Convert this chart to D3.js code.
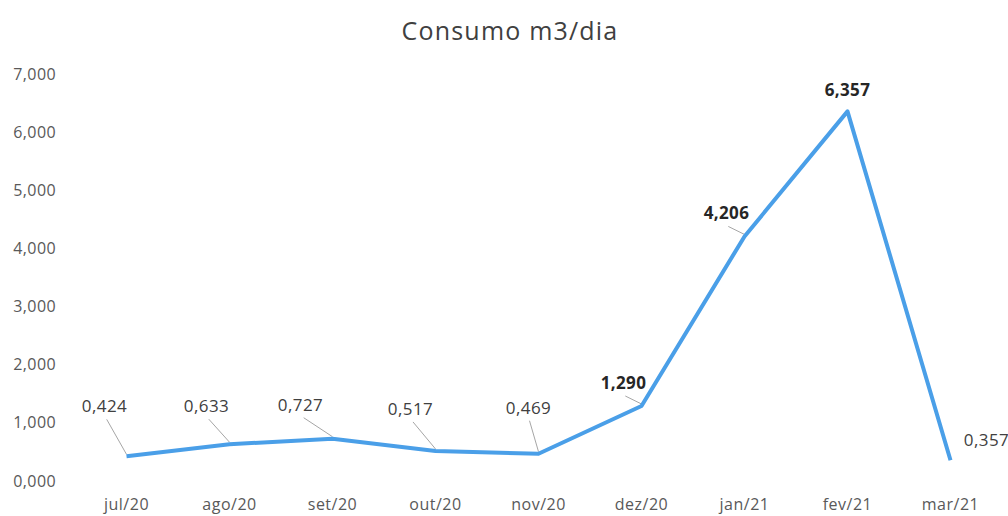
<!DOCTYPE html>
<html lang="pt">
<head>
<meta charset="UTF-8">
<title>Consumo m3/dia</title>
<script src="https://d3js.org/d3.v7.min.js"></script>
<style>
  body { margin: 0; background: #fff; }
  text { font-family: "Open Sans", sans-serif; }
</style>
</head>
<body>
<div id="chart"></div>
<script>
// data
var months = ["jul/20", "ago/20", "set/20", "out/20", "nov/20", "dez/20", "jan/21", "fev/21", "mar/21"];
var consumo = [0.424, 0.633, 0.727, 0.517, 0.469, 1.290, 4.206, 6.357, 0.357];
var yTicks = [0, 1, 2, 3, 4, 5, 6, 7];
var boldLabel = [false, false, false, false, false, true, true, true, false];

// label offsets from the point (dx, dy) and whether a leader line is drawn
var labelOffsets = [[-22, -50], [-23, -38], [-32, -34], [-25, -42], [-10, -46], [-18, -23], [-18, -23], [0, -21], [36, -20]];
var leader = [true, true, true, true, true, true, true, false, false];

var W = 1008, H = 516;
var margin = {top: 74, bottom: 35, left: 75, right: 6};

var svg = d3.select("#chart").append("svg")
  .attr("width", W)
  .attr("height", H);

var x = d3.scalePoint()
  .domain(months)
  .range([margin.left, W - margin.right])
  .padding(0.5);

var y = d3.scaleLinear()
  .domain([0, 7])
  .range([H - margin.bottom, margin.top]);

var pt = d3.formatLocale({decimal: ",", thousands: ".", grouping: [3], currency: ["", ""]});
var fmt = pt.format(".3f");

// title
svg.append("text")
  .attr("x", 510)
  .attr("y", 40)
  .attr("text-anchor", "middle")
  .style("font-size", "25px")
  .style("letter-spacing", "1.2px")
  .style("fill", "#404040")
  .text("Consumo m3/dia");

// y axis labels
svg.append("g").selectAll("text")
  .data(yTicks)
  .enter().append("text")
    .attr("x", 56)
    .attr("y", function(d) { return y(d); })
    .attr("dy", "0.35em")
    .attr("text-anchor", "end")
    .style("font-size", "16px")
    .style("letter-spacing", "0.4px")
    .style("fill", "#595959")
    .text(function(d) { return fmt(d); });

// x axis labels
svg.append("g").selectAll("text")
  .data(months)
  .enter().append("text")
    .attr("x", function(d) { return x(d); })
    .attr("y", 510)
    .attr("text-anchor", "middle")
    .style("font-size", "16px")
    .style("letter-spacing", "0.5px")
    .style("fill", "#595959")
    .text(function(d) { return d; });

var line = d3.line()
  .x(function(d, i) { return x(months[i]); })
  .y(function(d) { return y(d); });

// leader lines
svg.append("g").selectAll("line")
  .data(consumo)
  .enter().filter(function(d, i) { return leader[i]; })
  .append("line")
    .attr("x1", function(d, i) { return x(months[i]); })
    .attr("y1", function(d) { return y(d) - 2; })
    .attr("x2", function(d, i) { return x(months[i]) + labelOffsets[i][0] * 0.9; })
    .attr("y2", function(d, i) { return y(d) + labelOffsets[i][1] + 13; })
    .style("stroke", "#a6a6a6")
    .style("stroke-width", 1);

svg.append("path")
  .datum(consumo)
  .attr("d", line)
  .style("fill", "none")
  .style("stroke", "#4a9fe8")
  .style("stroke-width", 4)
  .style("stroke-linejoin", "round");

// value labels
svg.append("g").selectAll("text")
  .data(consumo)
  .enter().append("text")
    .attr("x", function(d, i) { return x(months[i]) + labelOffsets[i][0]; })
    .attr("y", function(d, i) { return y(d) + labelOffsets[i][1]; })
    .attr("dy", "0.35em")
    .attr("text-anchor", "middle")
    .style("font-size", "17px")
    .style("letter-spacing", "0.4px")
    .style("font-weight", function(d, i) { return boldLabel[i] ? "bold" : "normal"; })
    .style("fill", function(d, i) { return boldLabel[i] ? "#262626" : "#404040"; })
    .text(function(d) { return fmt(d); });
</script>
</body>
</html>
